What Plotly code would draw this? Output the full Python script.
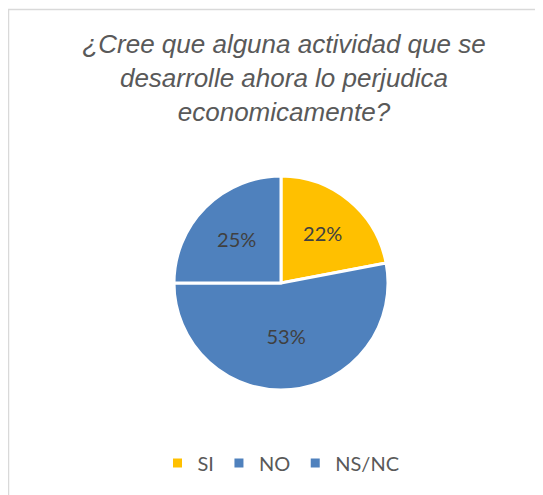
import plotly.graph_objects as go

labels = ["SI", "NO", "NS/NC"]
values = [22, 53, 25]
colors = ["#FFC000", "#4F81BD", "#4F81BD"]
title_text = "¿Cree que alguna actividad que se<br>desarrolle ahora lo perjudica<br>economicamente?"

W, H = 543, 495
cx, cy, r = 273, 275, 107

fig = go.Figure(go.Pie(
    labels=labels,
    values=values,
    marker=dict(colors=colors, line=dict(color="white", width=3)),
    sort=False,
    direction="clockwise",
    rotation=0,
    textinfo="percent",
    texttemplate="%{percent:.0%}",
    textposition="inside",
    insidetextorientation="horizontal",
    textfont=dict(family="Lato", size=20, color="#404040"),
    domain=dict(x=[(cx - r) / W, (cx + r) / W], y=[1 - (cy + r) / H, 1 - (cy - r) / H]),
    hoverinfo="label+percent",
))

fig.update_layout(
    width=W, height=H,
    margin=dict(l=0, r=0, t=0, b=0),
    paper_bgcolor="white",
    plot_bgcolor="white",
    title=dict(
        text=title_text,
        x=276 / W, xanchor="center",
        y=1 - 45 / H, yanchor="top",
        font=dict(family="Liberation Sans", size=26, color="#595959", style="italic"),
    ),
    legend=dict(
        orientation="h",
        x=273 / W, xanchor="center",
        y=1 - 455 / H, yanchor="middle",
        font=dict(family="Lato", size=20, color="#595959"),
        itemwidth=30,
    ),
    shapes=[dict(
        type="rect", xref="paper", yref="paper",
        x0=0.5 / W, x1=1.1, y0=-0.1, y1=1 - 1.5 / H,
        line=dict(color="#D9D9D9", width=1.5),
        layer="below",
    )],
)

fig.write_html("out.html")
